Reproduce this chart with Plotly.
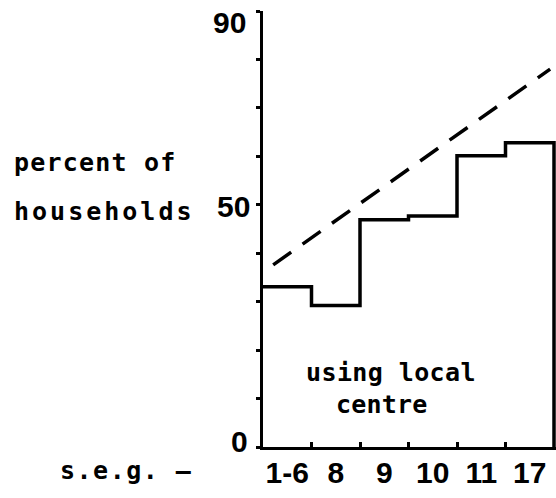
import plotly.graph_objects as go

# Socio-economic groups and share of households using the local centre
groups = ["1-6", "8", "9", "10", "11", "17"]
pct_using = [33.1, 29.2, 46.9, 47.7, 60.1, 62.8]

# Dashed trend line: end points (group position, percent)
trend_x = [0.21, 5.92]
trend_y = [37.6, 78.0]

# Y-axis labels
y_label_vals = [0, 50, 90]
y_label_text = ["0", "50", "90"]

W, H = 556, 498
L, R, T, B = 263, 0, 11, 51          # plot-area margins in px
X_END_PX = 554                        # pixel where group boundary 6 falls
x_max = len(groups) * (W - L) / (X_END_PX - L)

NUM_FONT = dict(family="Liberation Sans", size=30, color="black")
WORD_FONT = dict(family="DejaVu Sans Mono", size=25, color="black")


def paper(xp, yp):
    """Convert a pixel position on the page to paper coordinates."""
    pw, ph = W - L - R, H - T - B
    return (xp - L) / pw, (H - B - yp) / ph


fig = go.Figure()

# Stepped outline of the histogram
step_x = list(range(len(groups))) + [len(groups), len(groups)]
step_y = pct_using + [pct_using[-1], 0]
fig.add_trace(go.Scatter(
    x=step_x, y=step_y, mode="lines",
    line=dict(color="black", width=3.5, shape="hv"),
    cliponaxis=False, hoverinfo="skip",
))

# Dashed line
fig.add_trace(go.Scatter(
    x=trend_x, y=trend_y, mode="lines",
    line=dict(color="black", width=3.5, dash="22px,14px"),
    hoverinfo="skip",
))

annotations = []


def bold(t):
    return f"<b>{t}</b>"


def spaced(t, ls):
    return f'<span style="letter-spacing:{ls}px">{t}</span>'


# y tick labels (drawn as text next to the axis)
y_label_px = {0: (250, 441), 50: (252, 206), 90: (248, 23)}
for v, t in zip(y_label_vals, y_label_text):
    xp, yp = y_label_px[v]
    px_, py_ = paper(xp, yp)
    annotations.append(dict(
        x=px_, y=py_, xref="paper", yref="paper", text=bold(t),
        xanchor="right", yanchor="middle", showarrow=False, font=NUM_FONT,
    ))

word_items = [
    ("percent of", 12, 162, "left", 1.2),
    ("households", 12, 212, "left", 3.0),
    ("s.e.g. \u2013", 58, 470, "left", 1.5),
    ("using local", 391, 372, "center", 0.4),
    ("centre", 382, 404, "center", 0.2),
]
for t, xp, yp, anchor, ls in word_items:
    px_, py_ = paper(xp, yp)
    annotations.append(dict(
        x=px_, y=py_, xref="paper", yref="paper", text=bold(spaced(t, ls)),
        xanchor=anchor, yanchor="middle", showarrow=False, font=WORD_FONT,
    ))

fig.update_layout(
    width=W, height=H,
    margin=dict(l=L, r=R, t=T, b=B, pad=0),
    paper_bgcolor="white", plot_bgcolor="white",
    showlegend=False,
    annotations=annotations,
    xaxis=dict(
        range=[0, x_max],
        tickmode="array",
        tickvals=[i + 0.5 for i in range(len(groups))],
        ticktext=[bold(g) for g in groups],
        tickfont=NUM_FONT,
        ticklabelstandoff=-3,
        ticks="", showgrid=False, zeroline=False,
        showline=True, linecolor="black", linewidth=3,
        minor=dict(tickmode="array", tickvals=list(range(1, len(groups))),
                   ticks="inside", ticklen=5, tickwidth=3, tickcolor="black",
                   showgrid=False),
        fixedrange=True,
    ),
    yaxis=dict(
        range=[0, 90],
        tickmode="linear", tick0=0, dtick=10,
        ticks="outside", ticklen=4, tickwidth=3, tickcolor="black",
        showticklabels=False,
        showgrid=False, zeroline=False,
        showline=True, linecolor="black", linewidth=3,
        fixedrange=True,
    ),
)

fig.write_html("out.html", config={"displayModeBar": False})
